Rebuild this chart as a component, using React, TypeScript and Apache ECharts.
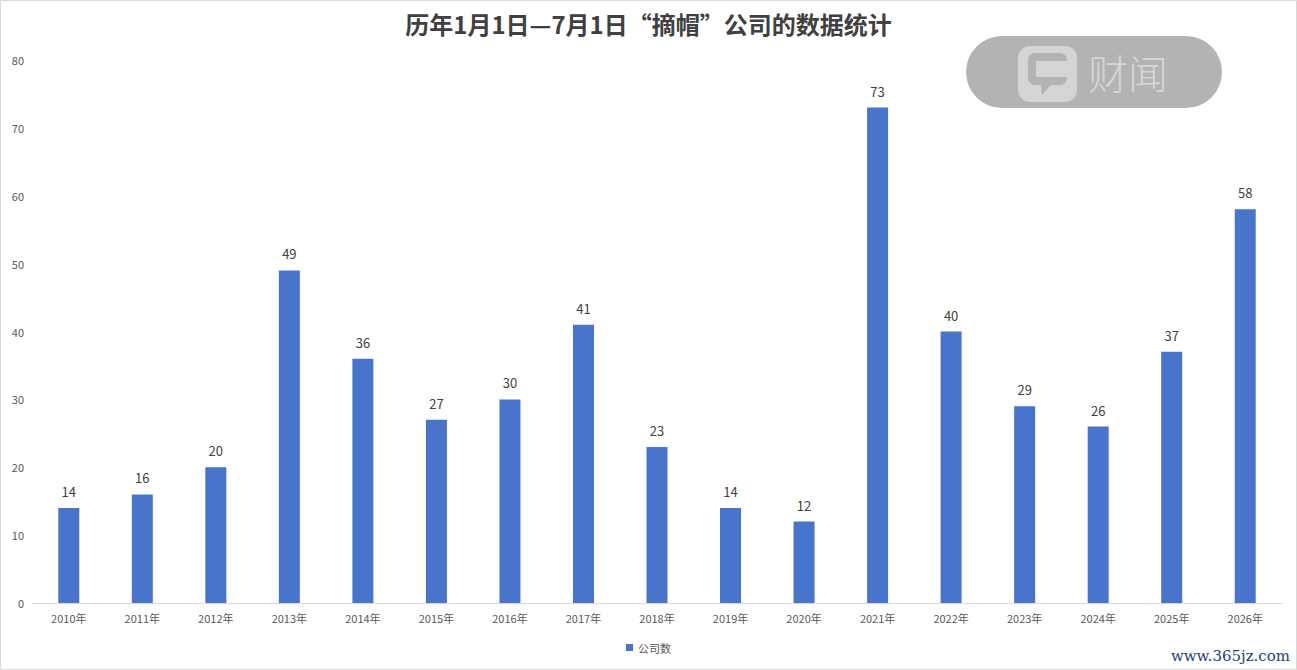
import React, { useEffect, useRef } from "react";
import * as echarts from "echarts";

const categories = ["2010年","2011年","2012年","2013年","2014年","2015年","2016年","2017年","2018年","2019年","2020年","2021年","2022年","2023年","2024年","2025年","2026年"];
const companyCounts = [14,16,20,49,36,27,30,41,23,14,12,73,40,29,26,37,58];
const seriesName = "公司数";
const titleText = "历年1月1日—7月1日“摘帽”公司的数据统计";

const FONT = "'Noto Sans CJK SC', 'Noto Sans', sans-serif";

export default function App() {
  const ref = useRef<HTMLDivElement>(null);
  useEffect(() => {
    document.body.style.margin = "0";
    const chart = echarts.init(ref.current!, undefined, { renderer: "svg" });
    chart.setOption({
      animation: false,
      backgroundColor: "#ffffff",
      textStyle: { fontFamily: FONT },
      title: {
        text: titleText,
        left: "center",
        top: 6,
        textStyle: { fontSize: 24, fontWeight: "bold", color: "#404040", fontFamily: FONT },
      },
      grid: { left: 32, right: 15, top: 60, bottom: 67, containLabel: false },
      legend: {
        bottom: 12,
        left: "center",
        itemWidth: 7,
        itemHeight: 7,
        icon: "rect",
        itemGap: 10,
        textStyle: { fontSize: 11, color: "#595959", fontFamily: FONT },
        data: [seriesName],
      },
      xAxis: {
        type: "category",
        data: categories,
        axisLine: { lineStyle: { color: "#d9d9d9" } },
        axisTick: { show: false },
        axisLabel: { fontSize: 11, color: "#595959", margin: 9, fontFamily: FONT },
      },
      yAxis: {
        type: "value",
        min: 0,
        max: 80,
        interval: 10,
        splitLine: { show: false },
        axisLine: { show: false },
        axisTick: { show: false },
        axisLabel: { fontSize: 11, color: "#595959", margin: 8, fontFamily: FONT },
      },
      series: [
        {
          name: seriesName,
          type: "bar",
          data: companyCounts,
          barWidth: 21,
          itemStyle: { color: "#4874CB" },
          label: {
            show: true,
            position: "top",
            distance: 10,
            fontSize: 13,
            color: "#404040",
            fontFamily: FONT,
          },
        },
      ],
      graphic: [
        {
          type: "rect",
          shape: { x: 0.5, y: 0.5, width: 1296, height: 669 },
          style: { fill: "none", stroke: "#d9d9d9", lineWidth: 1 },
          silent: true,
          z: 100,
        },
        {
          type: "group",
          z: 50,
          silent: true,
          children: [
            {
              type: "rect",
              shape: { x: 966, y: 36, width: 256, height: 72, r: 36 },
              style: { fill: "#b3b3b3" },
            },
            {
              type: "rect",
              shape: { x: 1018, y: 46, width: 59, height: 56, r: 12 },
              style: { fill: "#d4d4d4" },
            },
            {
              type: "rect",
              shape: { x: 1028, y: 53, width: 39, height: 32, r: 7 },
              style: { fill: "#b3b3b3" },
            },
            {
              type: "polygon",
              shape: { points: [[1041, 84], [1052, 84], [1042, 95]] },
              style: { fill: "#b3b3b3" },
            },
            {
              type: "rect",
              shape: { x: 1036, y: 61, width: 23, height: 16 },
              style: { fill: "#d4d4d4" },
            },
            {
              type: "rect",
              shape: { x: 1056, y: 61, width: 12, height: 16 },
              style: { fill: "#d4d4d4" },
            },
            {
              type: "text",
              x: 1088,
              y: 72,
              style: {
                text: "财闻",
                fontSize: 40,
                fontFamily: "'Noto Sans CJK SC', sans-serif",
                fontWeight: 300,
                fill: "#d6d6d6",
                verticalAlign: "middle",
                align: "left",
              },
            },
          ],
        },
        {
          type: "text",
          x: 1290,
          y: 656,
          z: 60,
          style: {
            text: "www.365jz.com",
            fontSize: 15,
            fontFamily: "'DejaVu Serif', serif",
            fill: "#1f3e78",
            align: "right",
            verticalAlign: "middle",
          },
        },
      ],
    });
    return () => chart.dispose();
  }, []);
  return <div ref={ref} style={{ width: 1297, height: 670 }} />;
}
